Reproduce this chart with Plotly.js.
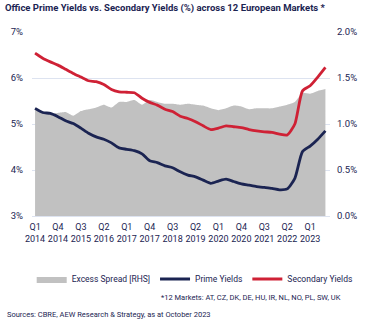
<!DOCTYPE html>
<html>
<head>
<meta charset="utf-8">
<script src="https://cdn.plot.ly/plotly-3.0.1.min.js"></script>
<style>
html,body{margin:0;padding:0;background:#fff;}
#chart{width:374px;height:326px;}
</style>
</head>
<body>
<div id="chart"></div>
<script>
const quarters = [
  "Q1<br>2014","Q2<br>2014","Q3<br>2014","Q4<br>2014",
  "Q1<br>2015","Q2<br>2015","Q3<br>2015","Q4<br>2015",
  "Q1<br>2016","Q2<br>2016","Q3<br>2016","Q4<br>2016",
  "Q1<br>2017","Q2<br>2017","Q3<br>2017","Q4<br>2017",
  "Q1<br>2018","Q2<br>2018","Q3<br>2018","Q4<br>2018",
  "Q1<br>2019","Q2<br>2019","Q3<br>2019","Q4<br>2019",
  "Q1<br>2020","Q2<br>2020","Q3<br>2020","Q4<br>2020",
  "Q1<br>2021","Q2<br>2021","Q3<br>2021","Q4<br>2021",
  "Q1<br>2022","Q2<br>2022","Q3<br>2022","Q4<br>2022",
  "Q1<br>2023","Q2<br>2023","Q3<br>2023"
];
const secondaryYields = [6.54,6.43,6.35,6.28,6.19,6.10,6.02,5.94,5.92,5.86,5.75,5.70,5.69,5.68,5.56,5.47,5.41,5.32,5.27,5.17,5.12,5.05,4.96,4.88,4.91,4.96,4.94,4.92,4.88,4.85,4.83,4.82,4.78,4.76,5.00,5.72,5.83,6.02,6.23];
const primeYields = [5.34,5.25,5.23,5.16,5.07,5.01,4.91,4.80,4.72,4.67,4.59,4.48,4.45,4.42,4.35,4.20,4.16,4.09,4.05,3.96,3.89,3.85,3.78,3.71,3.76,3.80,3.75,3.70,3.67,3.64,3.62,3.60,3.57,3.59,3.82,4.40,4.52,4.67,4.85];
const excessSpread = [1.18,1.12,1.11,1.12,1.13,1.09,1.14,1.16,1.18,1.21,1.18,1.24,1.24,1.26,1.21,1.26,1.24,1.22,1.22,1.21,1.22,1.21,1.20,1.17,1.15,1.17,1.20,1.19,1.16,1.17,1.17,1.17,1.19,1.21,1.24,1.34,1.33,1.36,1.38];
const tickLabels = quarters.filter((q, i) => i % 3 === 0);

const NAVY = "#1b2452";
const RED = "#cf2135";
const FONT = "Roboto, 'Liberation Sans', sans-serif";

const traces = [
  {x: quarters, y: excessSpread, name: "Excess Spread [RHS]", type: "scatter", mode: "lines",
   yaxis: "y", fill: "tozeroy", fillcolor: "#c1c1c1", line: {width: 0, color: "#c1c1c1", shape: "spline", smoothing: 0.5}},
  {x: quarters, y: primeYields, name: "Prime Yields", type: "scatter", mode: "lines", yaxis: "y2",
   line: {color: NAVY, width: 2.8, shape: "spline", smoothing: 0.6}},
  {x: quarters, y: secondaryYields, name: "Secondary Yields", type: "scatter", mode: "lines", yaxis: "y2",
   line: {color: RED, width: 2.8, shape: "spline", smoothing: 0.6}}
];

const plotL = 32, plotR = 330, plotT = 32, plotB = 216;
const pw = plotR - plotL, ph = plotB - plotT;

const layout = {
  width: 374, height: 326,
  margin: {l: plotL, r: 374 - plotR, t: plotT, b: 326 - plotB},
  paper_bgcolor: "#fff", plot_bgcolor: "#fff",
  font: {family: FONT, color: NAVY, size: 9},
  title: {text: "<b>Office Prime Yields vs. Secondary Yields (%) across 12 European Markets *</b>",
          x: 5 / 374, xanchor: "left", xref: "container", y: 1 - 8 / 326, yanchor: "middle", yref: "container",
          font: {family: FONT, size: 9.5, color: NAVY}},
  xaxis: {type: "category", categoryarray: quarters, range: [-0.4, 38.6],
          tickvals: tickLabels, ticktext: tickLabels, tickangle: 0,
          showgrid: false, zeroline: false, showline: true, linecolor: "#dde3f0", linewidth: 1,
          ticks: "", ticklabelstandoff: 2, tickfont: {size: 9, color: NAVY, family: FONT}},
  yaxis: {range: [0, 2], dtick: 0.5, tickformat: ".1f", ticksuffix: "%", side: "right",
          showgrid: true, gridcolor: "#dde3f0", gridwidth: 1,
          zeroline: false, ticks: "", ticklabelstandoff: 6, tickfont: {size: 9.5, color: NAVY, family: FONT}},
  yaxis2: {range: [3, 7], dtick: 1, ticksuffix: "%", overlaying: "y", side: "left",
           showgrid: false, zeroline: false, ticks: "", ticklabelstandoff: 8, tickfont: {size: 9.5, color: NAVY, family: FONT}},
  showlegend: true,
  legend: {orientation: "h", xref: "paper", x: -0.001, xanchor: "left", yref: "paper", y: -(279 - plotB) / ph, yanchor: "middle",
           font: {size: 8.5, color: NAVY, family: FONT}, itemwidth: 30, tracegroupgap: 0, traceorder: "normal"},
  annotations: [
    {text: "*12 Markets: AT, CZ, DK, DE, HU, IR, NL, NO, PL, SW, UK", xref: "paper", yref: "paper",
     x: (343 - plotL) / pw, xanchor: "right", y: -(297 - plotB) / ph, yanchor: "middle",
     showarrow: false, font: {size: 7.5, color: NAVY, family: FONT}},
    {text: "Sources: CBRE, AEW Research & Strategy, as at October 2023", xref: "paper", yref: "paper",
     x: (5 - plotL) / pw, xanchor: "left", y: -(314 - plotB) / ph, yanchor: "middle",
     showarrow: false, font: {size: 7.5, color: NAVY, family: FONT}}
  ]
};

Plotly.newPlot("chart", traces, layout, {displayModeBar: false, staticPlot: true});
</script>
</body>
</html>
